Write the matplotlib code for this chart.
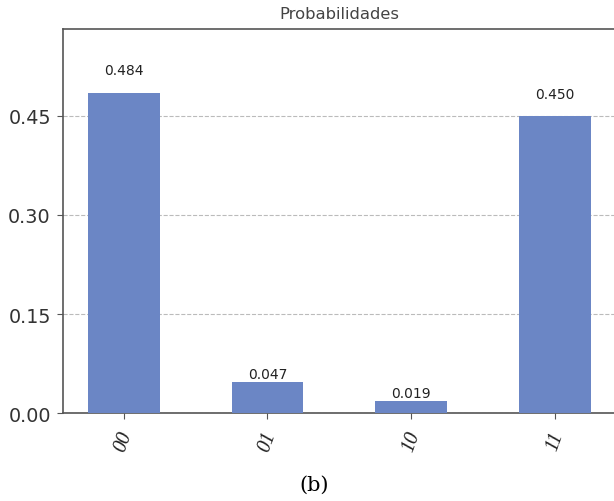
import matplotlib
matplotlib.use("Agg")
import matplotlib.pyplot as plt

# data
states = ["00", "01", "10", "11"]
probs = [0.484, 0.047, 0.019, 0.450]
yticks = [0.00, 0.15, 0.30, 0.45]

bar_color = "#6b86c5"
edge = "#555555"

fig = plt.figure(figsize=(6.14, 5.02), dpi=100)
# axes runs slightly past the right edge like the cropped original
ax = fig.add_axes([63.3 / 614, 1 - 414.3 / 502, (615.5 - 63.3) / 614, (414.3 - 30) / 502])

x = range(len(states))
bars = ax.bar(x, probs, width=0.5, color=bar_color, zorder=3)

for rect, p in zip(bars, probs):
    ax.text(rect.get_x() + rect.get_width() / 2, 1.05 * p, "%.3f" % p,
            ha="center", va="bottom", fontsize=10, color="#222222")

ax.set_xlim(-0.42, 3.42)
ax.set_ylim(0, max(probs) * 1.2)
ax.set_yticks(yticks)
ax.set_yticklabels(["%.2f" % v for v in yticks], fontsize=13.8, color="#333333")
ax.set_xticks(list(x))
ax.set_xticklabels(states, rotation=70, fontsize=14.5,
                   family="Liberation Serif", style="italic", color="#222222")
ax.tick_params(axis="both", colors=edge, length=4, width=0.8)
ax.tick_params(axis="y", labelcolor="#333333", pad=5)
ax.tick_params(axis="x", labelcolor="#222222", pad=7)

ax.yaxis.grid(True, linestyle="--", color="#bbbbbb", linewidth=0.8, zorder=0)
for s in ["left", "top", "bottom", "right"]:
    ax.spines[s].set_color(edge)
    ax.spines[s].set_linewidth(1.2)

ax.set_title("Probabilidades", fontsize=11.8, color="#444444", pad=8)

fig.text(314 / 614, 1 - 485 / 502, "(b)", ha="center", va="center",
         fontsize=15, family="DejaVu Serif")

fig.savefig("out.png", dpi=100)
